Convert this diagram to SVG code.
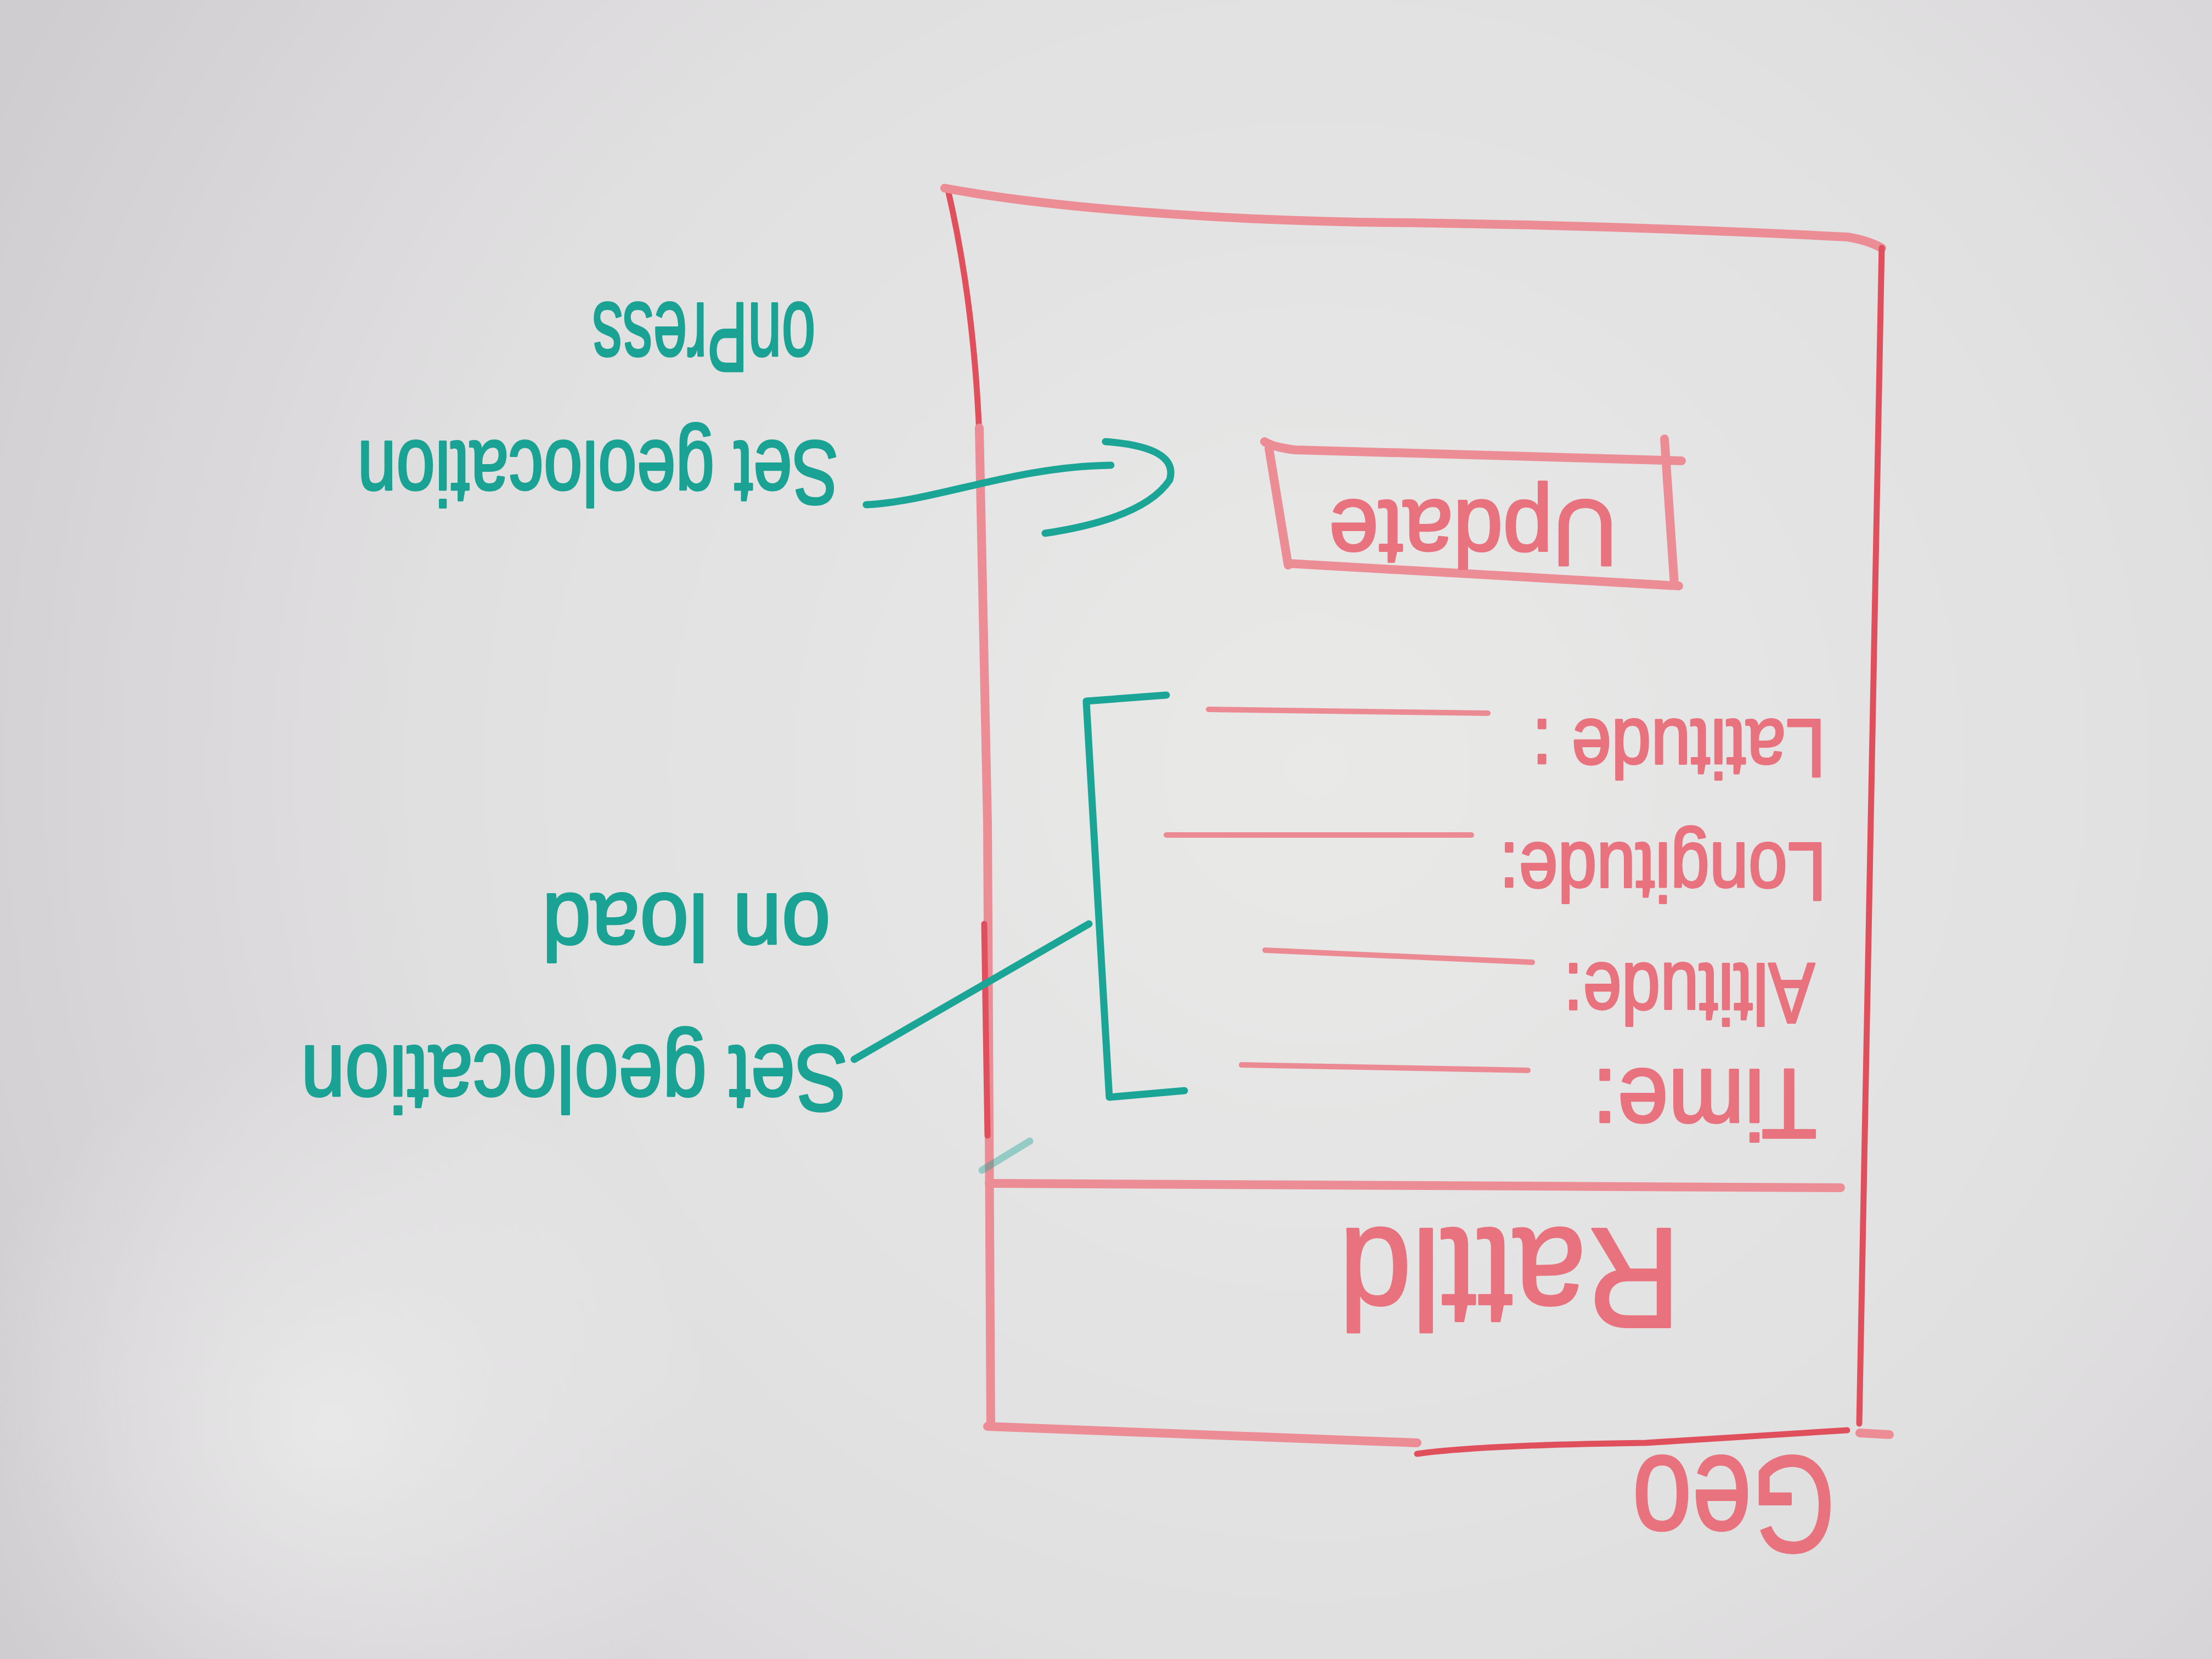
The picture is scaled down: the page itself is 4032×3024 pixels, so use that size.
<svg xmlns="http://www.w3.org/2000/svg" width="4032" height="3024" viewBox="0 0 4032 3024">
<defs>
<radialGradient id="board" cx="2400" cy="1400" r="2700" gradientUnits="userSpaceOnUse">
<stop offset="0" stop-color="#e9e9e8"/>
<stop offset="0.6" stop-color="#e1e0e1"/>
<stop offset="1" stop-color="#d0cdd0"/>
</radialGradient>
<radialGradient id="glare" cx="600" cy="2600" r="700" gradientUnits="userSpaceOnUse">
<stop offset="0" stop-color="#f0f0f0" stop-opacity="0.7"/>
<stop offset="1" stop-color="#f0f0f0" stop-opacity="0"/>
</radialGradient>
<style>
.dark{fill:none;stroke:#e0505c;stroke-width:11;stroke-linecap:round;stroke-linejoin:round}
.pink{fill:none;stroke:#ec8c95;stroke-width:16;stroke-linecap:round;stroke-linejoin:round}
.field{fill:none;stroke:#ec8a93;stroke-width:10;stroke-linecap:round}
.teal{fill:none;stroke:#1ba596;stroke-width:13;stroke-linecap:round;stroke-linejoin:round}
.rt{font-family:"Liberation Sans",Arial,sans-serif;fill:#e8737e;stroke:#e8737e;stroke-width:4;stroke-linejoin:round;text-anchor:middle}
.tt{font-family:"Liberation Sans",Arial,sans-serif;fill:#1aa394;stroke:#1aa394;stroke-width:4;stroke-linejoin:round;text-anchor:middle}
</style>
</defs>
<rect x="0" y="0" width="4032" height="3024" fill="url(#board)"/>
<rect x="0" y="1800" width="1400" height="1224" fill="url(#glare)"/>

<g id="phone-frame">
<path class="dark" d="M1727,342 Q1778,560 1786,820"/>
<path class="pink" stroke-width="13" d="M1785,780 L1800,1500 L1806,2600"/>
<path class="dark" stroke-width="13" d="M1794,1684 L1800,2070"/>
<path class="pink" stroke-width="20" d="M1722,343 C1950,385 2300,405 2571,406 C2850,410 3100,418 3368,432 Q3405,438 3430,452"/>
<path class="dark" d="M3430,452 L3389,2595"/>
<path class="pink" stroke-width="14" d="M1803,2157 L3355,2165"/>
<path class="pink" stroke-width="13" d="M1800,2600 L2583,2630"/>
<path class="dark" stroke-width="12" d="M2583,2650 Q2700,2634 3000,2630 L3367,2607"/>
<path class="pink" stroke-width="12" d="M3390,2612 L3444,2615"/>
</g>

<g id="title-rattld">
<text class="rt" font-size="260" textLength="623" lengthAdjust="spacingAndGlyphs" transform="translate(2752,2240) rotate(180)">Rattld</text>
</g>

<g id="label-geo">
<text class="rt" fill="#e2606b" stroke="#e2606b" font-size="250" textLength="370" lengthAdjust="spacingAndGlyphs" transform="translate(3160,2655) rotate(180)">Geo</text>
</g>

<g id="update-button">
<path class="pink" d="M2305,805 Q2320,815 2360,820 L3065,840"/>
<path class="pink" d="M2313,817 L2348,1030"/>
<path class="pink" d="M2348,1027 L3060,1068"/>
<path class="pink" d="M3034,800 L3052,1065"/>
<text class="rt" font-size="170" textLength="526" lengthAdjust="spacingAndGlyphs" transform="translate(2685,913) rotate(180)">Update</text>
</g>

<g id="field-latitude">
<path class="field" d="M2203,1293 L2712,1300"/>
<text class="rt" font-size="150" textLength="535" lengthAdjust="spacingAndGlyphs" transform="translate(3060,1312) rotate(180)">Latitude :</text>
</g>

<g id="field-longitude">
<path class="field" d="M2126,1522 L2682,1522"/>
<text class="rt" font-size="150" textLength="596" lengthAdjust="spacingAndGlyphs" transform="translate(3031,1537) rotate(180)">Longitude:</text>
</g>

<g id="field-altitude">
<path class="field" d="M2306,1732 L2793,1754"/>
<text class="rt" font-size="155" textLength="458" lengthAdjust="spacingAndGlyphs" transform="translate(3079,1757) rotate(180)">Altitude:</text>
</g>

<g id="field-time">
<path class="field" d="M2263,1941 L2785,1951"/>
<text class="rt" font-size="180" textLength="410" lengthAdjust="spacingAndGlyphs" transform="translate(3107,1950) rotate(180)">Time:</text>
</g>

<g id="bracket">
<path class="teal" stroke-width="11" d="M2126,1267 L1980,1278 L2022,2000 L2159,1988"/>
</g>

<g id="label-onpress">
<text class="tt" font-size="180" textLength="407" lengthAdjust="spacingAndGlyphs" transform="translate(1283,553) rotate(180)">onPress</text>
</g>

<g id="label-set-geolocation-press">
<text class="tt" font-size="165" textLength="877" lengthAdjust="spacingAndGlyphs" transform="translate(1090,805) rotate(180)">Set geolocation</text>
</g>

<g id="label-onload">
<text class="tt" font-size="170" textLength="526" lengthAdjust="spacingAndGlyphs" transform="translate(1251,1630) rotate(180)">on load</text>
</g>

<g id="label-set-geolocation-load">
<text class="tt" font-size="170" textLength="997" lengthAdjust="spacingAndGlyphs" transform="translate(1047,1907) rotate(180)">Set geolocation</text>
</g>

<g id="connectors">
<path class="teal" stroke-width="16" d="M1579,920 C1700,915 1850,850 2025,848"/>
<path class="teal" stroke-width="16" d="M2015,805 Q2150,815 2132,875 Q2085,945 1905,972"/>
<path class="teal" stroke-width="8" d="M1985,1684 L1557,1931"/>
<path class="teal" stroke-width="6" opacity="0.4" d="M1790,2133 L1877,2080"/>
</g>
</svg>
